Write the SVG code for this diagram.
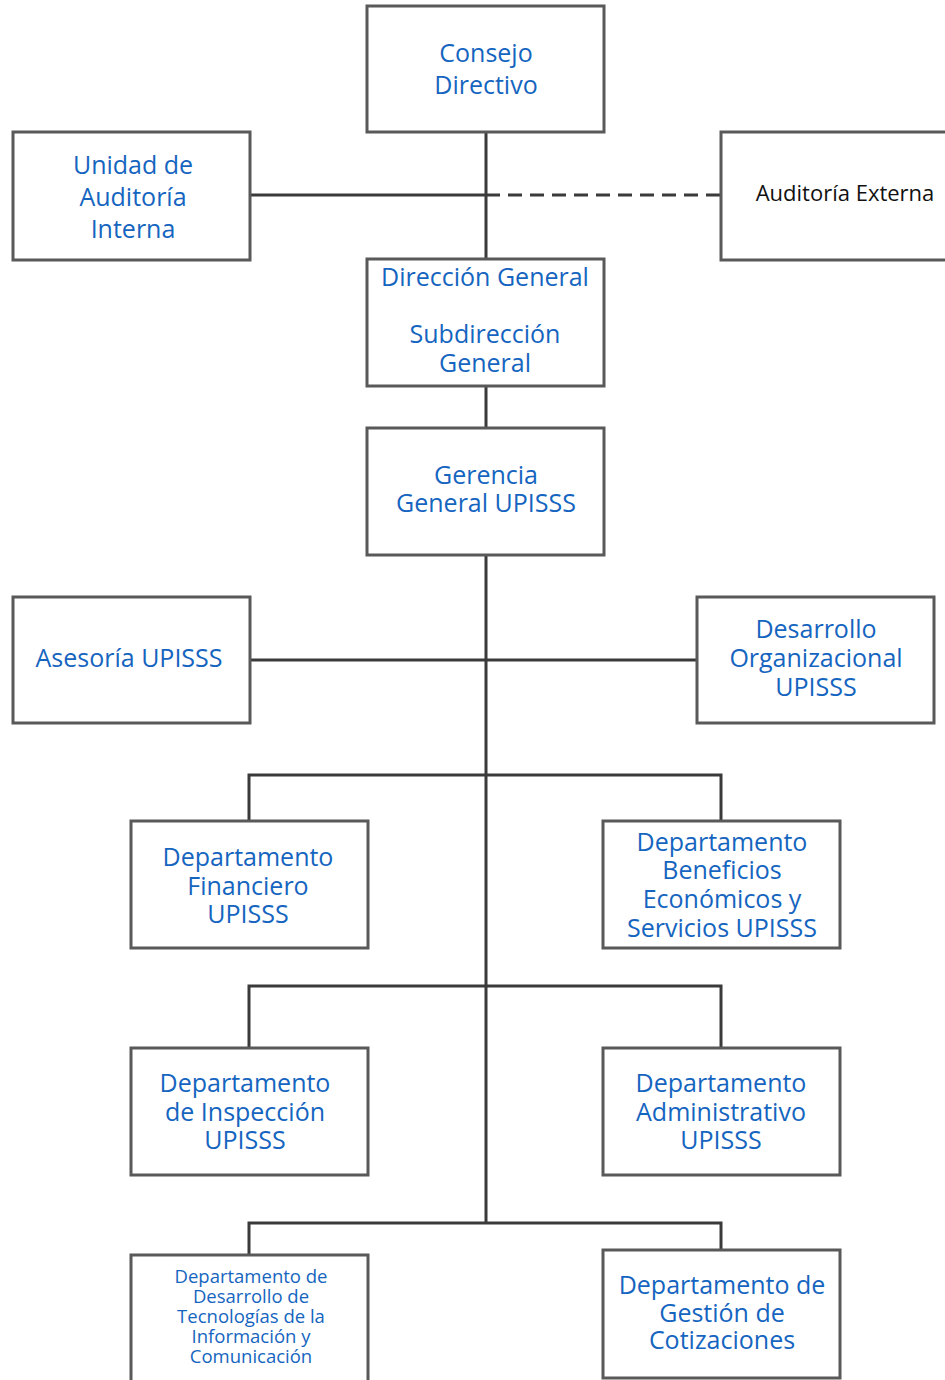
<svg xmlns="http://www.w3.org/2000/svg" width="945" height="1380" viewBox="0 0 945 1380">
<style>
.box{fill:#fff;stroke:#595959;stroke-width:3}
.t{font-family:"Open Sans","Noto Sans",sans-serif;font-size:25px;fill:#1565c0;text-anchor:middle}
.s{font-family:"Open Sans","Noto Sans",sans-serif;font-size:18.5px;fill:#1565c0;text-anchor:middle}
.k{font-family:"Open Sans","Noto Sans",sans-serif;font-size:22px;fill:#111;text-anchor:middle}
.c{fill:none;stroke:#3a3a3a;stroke-width:3}
</style>
<rect width="945" height="1380" fill="#fff"/>
<g id="connectors">
<path class="c" d="M486 132V259M250 195H486M486 386V428M486 555V1223M250 660H697M249 821V775H721V821M249 1048V986H721V1048M249 1255V1223H721V1250"/>
<path class="c" d="M486 195H721" stroke-dasharray="14 8"/>
</g>
<g id="consejo"><rect class="box" x="367" y="6" width="237" height="126"/><text class="t" x="486" y="62">Consejo</text><text class="t" x="486" y="94">Directivo</text></g>
<g id="auditoria-interna"><rect class="box" x="13" y="132" width="237" height="128"/><text class="t" x="133" y="174">Unidad de</text><text class="t" x="133" y="206">Auditoría</text><text class="t" x="133" y="238">Interna</text></g>
<g id="auditoria-externa"><rect class="box" x="721" y="132" width="240" height="128"/><text class="k" x="845" y="201">Auditoría Externa</text></g>
<g id="direccion"><rect class="box" x="367" y="259" width="237" height="127"/><text class="t" x="485" y="286">Dirección General</text><text class="t" x="485" y="343">Subdirección</text><text class="t" x="485" y="372">General</text></g>
<g id="gerencia"><rect class="box" x="367" y="428" width="237" height="127"/><text class="t" x="486" y="484">Gerencia</text><text class="t" x="486" y="512">General UPISSS</text></g>
<g id="asesoria"><rect class="box" x="13" y="597" width="237" height="126"/><text class="t" x="129" y="667">Asesoría UPISSS</text></g>
<g id="desarrollo"><rect class="box" x="697" y="597" width="237" height="126"/><text class="t" x="816" y="638">Desarrollo</text><text class="t" x="816" y="667">Organizacional</text><text class="t" x="816" y="696">UPISSS</text></g>
<g id="financiero"><rect class="box" x="131" y="821" width="237" height="127"/><text class="t" x="248" y="866">Departamento</text><text class="t" x="248" y="895">Financiero</text><text class="t" x="248" y="923">UPISSS</text></g>
<g id="beneficios"><rect class="box" x="603" y="821" width="237" height="127"/><text class="t" x="722" y="851">Departamento</text><text class="t" x="722" y="879">Beneficios</text><text class="t" x="722" y="908">Económicos y</text><text class="t" x="722" y="937">Servicios UPISSS</text></g>
<g id="inspeccion"><rect class="box" x="131" y="1048" width="237" height="127"/><text class="t" x="245" y="1092">Departamento</text><text class="t" x="245" y="1121">de Inspección</text><text class="t" x="245" y="1149">UPISSS</text></g>
<g id="administrativo"><rect class="box" x="603" y="1048" width="237" height="127"/><text class="t" x="721" y="1092">Departamento</text><text class="t" x="721" y="1121">Administrativo</text><text class="t" x="721" y="1149">UPISSS</text></g>
<g id="tecnologias"><rect class="box" x="131" y="1255" width="237" height="140"/><text class="s" x="251" y="1283">Departamento de</text><text class="s" x="251" y="1303">Desarrollo de</text><text class="s" x="251" y="1323">Tecnologías de la</text><text class="s" x="251" y="1343">Información y</text><text class="s" x="251" y="1363">Comunicación</text></g>
<g id="cotizaciones"><rect class="box" x="603" y="1250" width="237" height="128"/><text class="t" x="722" y="1294">Departamento de</text><text class="t" x="722" y="1322">Gestión de</text><text class="t" x="722" y="1349">Cotizaciones</text></g>
</svg>
